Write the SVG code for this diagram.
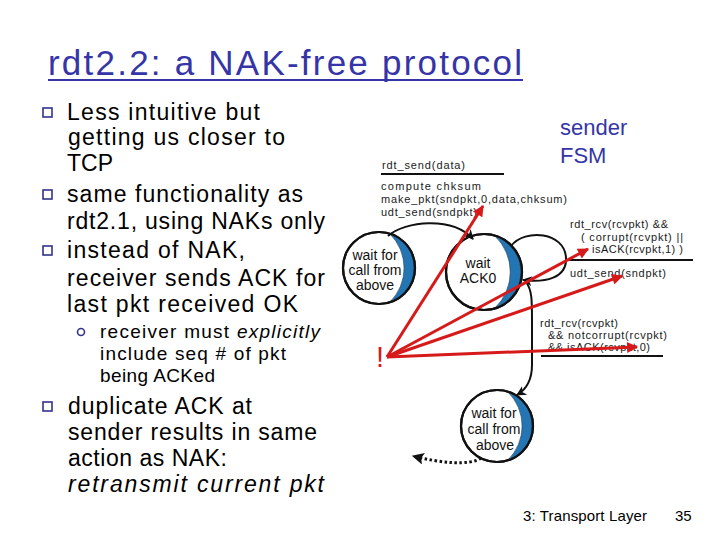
<svg xmlns="http://www.w3.org/2000/svg" width="720" height="540" viewBox="0 0 720 540">
<style>
.title{font-family:"Liberation Sans",Arial,sans-serif;font-size:35px;fill:#3535a8}
.blue{font-family:"Liberation Sans",Arial,sans-serif;font-size:22px;fill:#3535a8}
.body{font-family:"Liberation Sans",Arial,sans-serif;font-size:23px;fill:#000}
.sub{font-family:"Liberation Sans",Arial,sans-serif;font-size:19px;fill:#000}
.it{font-style:italic}
.fsm{font-family:"Liberation Sans",Arial,sans-serif;font-size:11px;fill:#1a1a1a}
.st{font-family:"Liberation Sans",Arial,sans-serif;font-size:14px;fill:#111;text-anchor:middle}
.foot{font-family:"Liberation Sans",Arial,sans-serif;font-size:15px;fill:#000}
.bul{fill:#fff;stroke:#33338a;stroke-width:1.6}
.ring{fill:#fff;stroke:#111;stroke-width:2.2}
.cres{fill:#2376b3;stroke:#0d2f4a;stroke-width:0.6}
.bar{stroke:#111;stroke-width:2}
.tr{fill:none;stroke:#111;stroke-width:2;marker-end:url(#ka)}
.red{fill:none;stroke:#d61a1a;stroke-width:3;marker-end:url(#ra)}
</style>
<defs>
<marker id="ka" viewBox="0 0 10 10" refX="9" refY="5" markerWidth="10" markerHeight="10" markerUnits="userSpaceOnUse" orient="auto"><path d="M0,0 L10,5 L0,10 L3,5 Z" fill="#111"/></marker>
<marker id="ra" viewBox="0 0 10 10" refX="9" refY="5" markerWidth="12" markerHeight="11" markerUnits="userSpaceOnUse" orient="auto"><path d="M0,0 L10,5 L0,10 Z" fill="#d61a1a"/></marker>
<marker id="da" viewBox="0 0 10 10" refX="9" refY="5" markerWidth="13" markerHeight="12" markerUnits="userSpaceOnUse" orient="auto"><path d="M0,0 L10,5 L0,10 L2,5 Z" fill="#111"/></marker>
</defs>

<g id="title">
<text class="title" x="48" y="75" textLength="474">rdt2.2: a NAK-free protocol</text>
<line x1="48" y1="80" x2="523" y2="80" stroke="#3535a8" stroke-width="2"/>
</g>

<g id="bullets">
<rect class="bul" x="43" y="108" width="9" height="9"/>
<text class="body" x="67" y="120" textLength="193">Less intuitive but</text>
<text class="body" x="68" y="145" textLength="217">getting us closer to</text>
<text class="body" x="67" y="171">TCP</text>
<rect class="bul" x="43" y="190" width="9" height="9"/>
<text class="body" x="67" y="202" textLength="236">same functionality as</text>
<text class="body" x="67" y="229" textLength="258">rdt2.1, using NAKs only</text>
<rect class="bul" x="43" y="246" width="9" height="9"/>
<text class="body" x="67" y="258" textLength="178">instead of NAK,</text>
<text class="body" x="67" y="286" textLength="258">receiver sends ACK for</text>
<text class="body" x="67" y="312" textLength="231">last pkt received OK</text>
<circle class="bul" cx="81" cy="332" r="3.5"/>
<text class="sub" x="100" y="338" textLength="220">receiver must <tspan class="it">explicitly</tspan></text>
<text class="sub" x="100" y="360" textLength="186">include seq # of pkt</text>
<text class="sub" x="100" y="382" textLength="115">being ACKed</text>
<rect class="bul" x="43" y="402" width="9" height="9"/>
<text class="body" x="68" y="414" textLength="184">duplicate ACK at</text>
<text class="body" x="68" y="440" textLength="249">sender results in same</text>
<text class="body" x="68" y="466" textLength="159">action as NAK:</text>
<text class="body it" x="68" y="492" textLength="256">retransmit current pkt</text>
</g>

<g id="fsm-label">
<text class="blue" x="560" y="135">sender</text>
<text class="blue" x="560" y="163">FSM</text>
</g>

<g id="state-wait-call-top">
<circle class="ring" cx="379" cy="268" r="36"/>
<path class="cres" d="M390,234 A36,36 0 0 1 390,302 A48,48 0 0 0 390,234 Z"/>
<circle cx="379" cy="268" r="36" fill="none" stroke="#111" stroke-width="2.2"/>
<text class="st" x="375" y="260">wait for</text>
<text class="st" x="375" y="275">call from</text>
<text class="st" x="375" y="290">above</text>
</g>

<g id="state-wait-ack0">
<circle class="ring" cx="484" cy="272" r="38"/>
<path class="cres" d="M495,236 A38,38 0 0 1 495,308 A50,50 0 0 0 495,236 Z"/>
<circle cx="484" cy="272" r="38" fill="none" stroke="#111" stroke-width="2.2"/>
<text class="st" x="478" y="268">wait</text>
<text class="st" x="478" y="283">ACK0</text>
</g>

<g id="state-wait-call-bottom">
<circle class="ring" cx="497" cy="426" r="36"/>
<path class="cres" d="M508,392 A36,36 0 0 1 508,460 A48,48 0 0 0 508,392 Z"/>
<circle cx="497" cy="426" r="36" fill="none" stroke="#111" stroke-width="2.2"/>
<text class="st" x="494" y="418">wait for</text>
<text class="st" x="494" y="434">call from</text>
<text class="st" x="495" y="450">above</text>
</g>

<g id="label-send">
<text class="fsm" x="382" y="169" textLength="83">rdt_send(data)</text>
<line class="bar" x1="381" y1="174" x2="504" y2="174"/>
<text class="fsm" x="381" y="190" textLength="100">compute chksum</text>
<text class="fsm" x="381" y="203" textLength="186">make_pkt(sndpkt,0,data,chksum)</text>
<text class="fsm" x="381" y="216" textLength="96">udt_send(sndpkt)</text>
</g>

<g id="label-retx">
<text class="fsm" x="570" y="228" textLength="98">rdt_rcv(rcvpkt) &amp;&amp;</text>
<text class="fsm" x="581" y="241" textLength="102">( corrupt(rcvpkt) ||</text>
<text class="fsm" x="592" y="253" textLength="91">isACK(rcvpkt,1) )</text>
<line class="bar" x1="568" y1="260" x2="693" y2="260"/>
<text class="fsm" x="570" y="277" textLength="96">udt_send(sndpkt)</text>
</g>

<g id="label-ack">
<text class="fsm" x="540" y="327" textLength="78">rdt_rcv(rcvpkt)</text>
<text class="fsm" x="548" y="339" textLength="119">&amp;&amp; notcorrupt(rcvpkt)</text>
<text class="fsm" x="548" y="351" textLength="102">&amp;&amp; isACK(rcvpkt,0)</text>
<line class="bar" x1="541" y1="356" x2="663" y2="356"/>
</g>

<g id="connectors">
<path class="tr" d="M388,236 C405,221 452,216 473,239"/>
<path class="tr" d="M511,246 C525,228 565,232 566,258 C567,278 545,283 523,280"/>
<path class="tr" d="M526,282 C532,290 532,300 532,320 L532,365 C532,380 527,389 517,395"/>
<path d="M481,458 C470,466 440,463 413,456" fill="none" stroke="#111" stroke-width="3" stroke-dasharray="2.5 2.5" marker-end="url(#da)"/>
</g>

<g id="annotation">
<text x="380" y="367" font-family="Liberation Sans,Arial,sans-serif" font-size="29" fill="#d61a1a" text-anchor="middle">!</text>
<path class="red" d="M387,357 L483,206"/>
<path class="red" d="M387,357 L588,249"/>
<path class="red" d="M387,357 L622,276"/>
<path class="red" d="M387,357 L637,347"/>
</g>

<g id="footer">
<text class="foot" x="523" y="521" textLength="124">3: Transport Layer</text>
<text class="foot" x="675" y="521">35</text>
</g>
</svg>
